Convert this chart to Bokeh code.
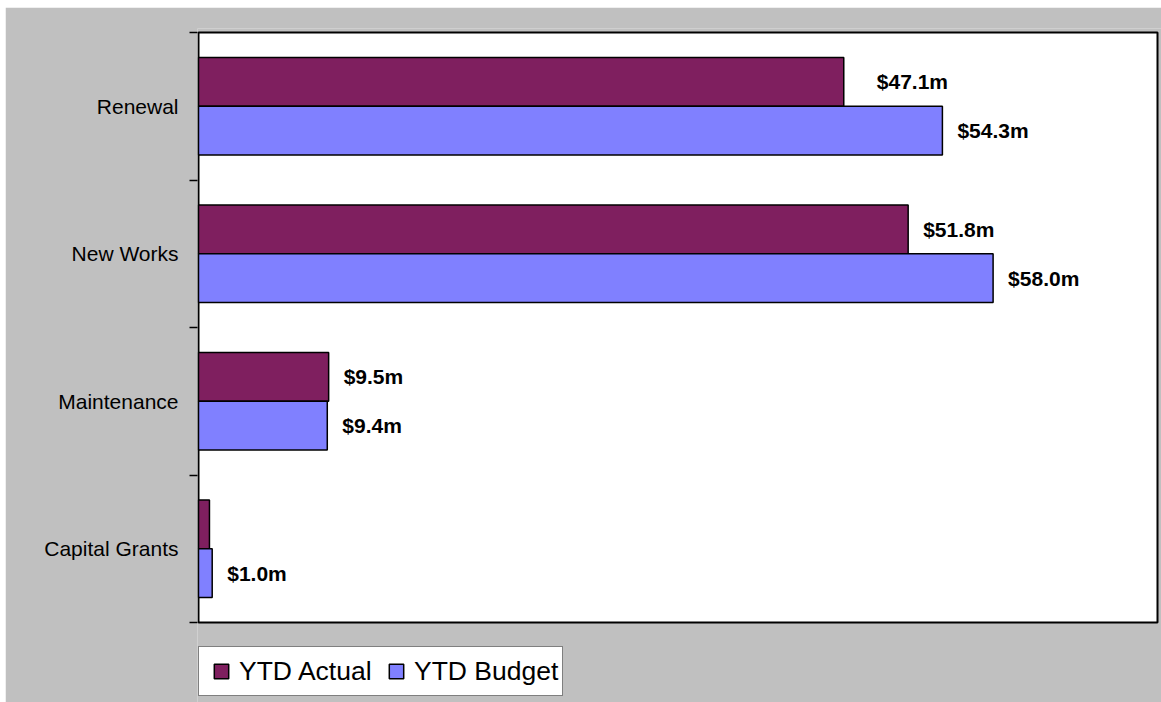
from bokeh.plotting import figure
from bokeh.models import (ColumnDataSource, Range1d, FixedTicker, Legend, LegendItem,
                          BoxAnnotation)
from bokeh.core.properties import value
from bokeh.embed import file_html
from bokeh.resources import INLINE

# ---- data (bottom to top) ----
categories = ["Capital Grants", "Maintenance", "New Works", "Renewal"]
ytd_actual = [0.8, 9.5, 51.8, 47.1]
ytd_budget = [1.0, 9.4, 58.0, 54.3]
actual_label_shown = [False, True, True, True]
budget_label_shown = [True, True, True, True]
series_names = ["YTD Actual", "YTD Budget"]

# ---- styles / layout ----
ACTUAL_COLOR = "#7F1F5F"
BUDGET_COLOR = "#8080FF"
GREY = "#C0C0C0"
FONT = "Liberation Sans"
BAR_H = 0.33
OFF = 0.165
actual_label_xoff = [15, 15, 15, 33]
budget_label_xoff = [15, 15, 15, 15]

X_MAX = 70                      # value axis maximum
N = len(categories)
# plot area in page pixels
AREA_L, AREA_R, AREA_T, AREA_B = 198, 1157, 32, 622
FIG_L, FIG_T, FIG_W, FIG_H = 5, 7, 1156, 695
FRAME_L, FRAME_T = 197, 28
FRAME_R, FRAME_B = FIG_L + FIG_W, FIG_T + FIG_H
px_x = (AREA_R - AREA_L) / X_MAX
px_y = (AREA_B - AREA_T) / N
x_range = Range1d(-(AREA_L - FRAME_L) / px_x, X_MAX + (FRAME_R - AREA_R) / px_x)
y_range = Range1d(-(FRAME_B - AREA_B) / px_y, N + (AREA_T - FRAME_T) / px_y)

centers = [i + 0.5 for i in range(N)]
fmt = lambda v: "$%.1fm" % v

src_a = ColumnDataSource(dict(y=[c + OFF for c in centers], right=ytd_actual))
src_b = ColumnDataSource(dict(y=[c - OFF for c in centers], right=ytd_budget))

lab_x, lab_y, lab_t, lab_o = [], [], [], []
for c, v, s, o in zip(centers, ytd_actual, actual_label_shown, actual_label_xoff):
    if s:
        lab_x.append(v); lab_y.append(c + OFF); lab_t.append(fmt(v)); lab_o.append(o)
for c, v, s, o in zip(centers, ytd_budget, budget_label_shown, budget_label_xoff):
    if s:
        lab_x.append(v); lab_y.append(c - OFF); lab_t.append(fmt(v)); lab_o.append(o)
src_l = ColumnDataSource(dict(x=lab_x, y=lab_y, text=lab_t, xo=lab_o))

p = figure(width=FIG_W, height=FIG_H, margin=(FIG_T, 0, 0, FIG_L),
           x_range=x_range, y_range=y_range,
           output_backend="svg", toolbar_location=None,
           min_border_left=FRAME_L - FIG_L, min_border_right=0,
           min_border_top=FRAME_T - FIG_T, min_border_bottom=0)
p.border_fill_color = GREY
p.background_fill_color = GREY
p.outline_line_color = None
p.xgrid.visible = False
p.ygrid.visible = False
p.xaxis.visible = False

# white plot area with black border
p.add_layout(BoxAnnotation(left=0, right=X_MAX, bottom=0, top=N,
                           fill_color="white", fill_alpha=1,
                           line_color="black", line_alpha=1, line_width=2,
                           level="underlay"))

r_a = p.hbar(y="y", right="right", left=0, height=BAR_H, source=src_a,
             fill_color=ACTUAL_COLOR, line_color="black", line_width=1.5)
r_b = p.hbar(y="y", right="right", left=0, height=BAR_H, source=src_b,
             fill_color=BUDGET_COLOR, line_color="black", line_width=1.5)

p.text(x="x", y="y", text="text", x_offset="xo", source=src_l,
       text_font=value(FONT), text_font_style="bold", text_font_size="21px",
       text_baseline="middle", text_align="left", text_color="black")

yax = p.yaxis[0]
yax.ticker = FixedTicker(ticks=centers, minor_ticks=list(range(N + 1)))
yax.major_label_overrides = {c: n for c, n in zip(centers, categories)}
yax.major_tick_line_color = None
yax.major_tick_out = 0
yax.major_tick_in = 0
yax.minor_tick_line_color = "black"
yax.minor_tick_line_width = 1.5
yax.minor_tick_out = 8
yax.minor_tick_in = 0
yax.axis_line_color = None
yax.major_label_text_font = FONT
yax.major_label_text_font_size = "21px"
yax.major_label_text_color = "black"
yax.major_label_standoff = 11

# legend swatches: square markers at the bar ends (hidden in the plot itself)
sw_a = p.scatter(x="right", y="y", source=src_a, marker="square",
                 fill_color=ACTUAL_COLOR, line_color="black", line_width=1.5)
sw_b = p.scatter(x="right", y="y", source=src_b, marker="square",
                 fill_color=BUDGET_COLOR, line_color="black", line_width=1.5)
sw_a.visible = False
sw_b.visible = False

legend = Legend(items=[LegendItem(label=series_names[0], renderers=[sw_a]),
                       LegendItem(label=series_names[1], renderers=[sw_b])],
                orientation="horizontal", location=(AREA_L - FRAME_L, 6),
                border_line_color="black", border_line_width=1.5,
                background_fill_color="white", background_fill_alpha=1,
                label_text_font=FONT, label_text_font_size="26.5px",
                label_text_color="black",
                glyph_width=36, glyph_height=40, label_standoff=0,
                label_width=139, spacing=0, padding=4, margin=0)
p.add_layout(legend, "center")

open("out.html", "w").write(file_html(p, INLINE))
